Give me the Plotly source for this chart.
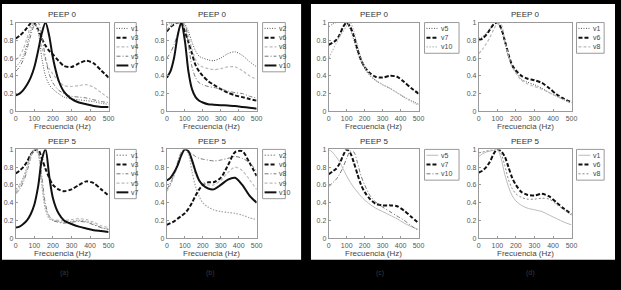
import plotly.graph_objects as go

W, H = 621, 290

# ---------------- data ----------------
freq = [0, 20, 40, 60, 80, 100, 120, 140, 160, 180, 200, 230, 260, 300, 340, 380, 420, 460, 500]
x_ticks = [0, 100, 200, 300, 400, 500]
y_ticks = [0, 0.2, 0.4, 0.6, 0.8, 1]
y_tick_labels = ["0", "0.2", "0.4", "0.6", "0.8", "1"]
panel_titles = ["PEEP 0", "PEEP 0", "PEEP 0", "PEEP 0", "PEEP 5", "PEEP 5", "PEEP 5", "PEEP 5"]
group_labels = ["(a)", "(b)", "(c)", "(d)"]
x_title = "Frecuencia (Hz)"

# Panel (a) PEEP 0
a0_names = ["v1", "v3", "v4", "v5", "v7"]
a0_v1 = [0.5, 0.55, 0.62, 0.75, 0.9, 1.0, 0.9, 0.6, 0.4, 0.3, 0.25, 0.2, 0.16, 0.14, 0.13, 0.12, 0.11, 0.09, 0.08]
a0_v3 = [0.82, 0.85, 0.89, 0.94, 0.99, 0.99, 0.92, 0.82, 0.74, 0.68, 0.64, 0.57, 0.51, 0.5, 0.54, 0.57, 0.54, 0.46, 0.38]
a0_v4 = [0.58, 0.62, 0.7, 0.82, 0.96, 1.0, 0.9, 0.72, 0.58, 0.48, 0.42, 0.34, 0.29, 0.28, 0.29, 0.3, 0.27, 0.21, 0.15]
a0_v5 = [0.45, 0.5, 0.58, 0.7, 0.85, 0.97, 1.0, 0.85, 0.6, 0.42, 0.32, 0.24, 0.2, 0.17, 0.16, 0.15, 0.13, 0.11, 0.1]
a0_v7 = [0.18, 0.2, 0.24, 0.3, 0.38, 0.5, 0.68, 0.88, 1.0, 0.85, 0.6, 0.35, 0.22, 0.14, 0.1, 0.08, 0.06, 0.05, 0.05]

# Panel (b) PEEP 0
b0_names = ["v2", "v6", "v8", "v9", "v10"]
b0_v2 = [0.97, 0.99, 1.0, 1.0, 1.0, 0.98, 0.9, 0.78, 0.68, 0.62, 0.6, 0.58, 0.57, 0.6, 0.65, 0.67, 0.63, 0.56, 0.5]
b0_v6 = [0.9, 0.95, 0.98, 1.0, 1.0, 0.9, 0.78, 0.65, 0.52, 0.45, 0.4, 0.34, 0.3, 0.25, 0.21, 0.18, 0.16, 0.14, 0.12]
b0_v8 = [0.92, 0.96, 0.99, 1.0, 0.99, 0.95, 0.85, 0.7, 0.58, 0.52, 0.5, 0.48, 0.47, 0.48, 0.5, 0.5, 0.46, 0.4, 0.36]
b0_v9 = [0.6, 0.66, 0.75, 0.87, 0.98, 0.98, 0.75, 0.5, 0.38, 0.32, 0.3, 0.28, 0.27, 0.25, 0.23, 0.21, 0.2, 0.17, 0.15]
b0_v10 = [0.38, 0.45, 0.6, 0.85, 1.0, 0.8, 0.45, 0.25, 0.16, 0.12, 0.1, 0.08, 0.075, 0.07, 0.065, 0.06, 0.05, 0.04, 0.03]

# Panel (c) PEEP 0
c0_names = ["v5", "v7", "v10"]
c0_v5 = [0.95, 0.98, 1.0, 1.0, 1.0, 0.99, 0.92, 0.8, 0.66, 0.56, 0.48, 0.4, 0.35, 0.3, 0.26, 0.21, 0.16, 0.12, 0.08]
c0_v7 = [0.75, 0.77, 0.8, 0.86, 0.95, 1.0, 0.95, 0.85, 0.7, 0.58, 0.5, 0.43, 0.39, 0.38, 0.4, 0.39, 0.33, 0.26, 0.2]
c0_v10 = [0.6, 0.68, 0.76, 0.84, 0.9, 0.96, 1.0, 0.9, 0.75, 0.6, 0.5, 0.41, 0.35, 0.3, 0.26, 0.21, 0.16, 0.11, 0.07]

# Panel (d) PEEP 0
d0_names = ["v1", "v6", "v8"]
d0_v1 = [0.82, 0.84, 0.88, 0.93, 0.98, 1.0, 0.92, 0.78, 0.62, 0.5, 0.44, 0.36, 0.33, 0.3, 0.26, 0.21, 0.17, 0.13, 0.1]
d0_v6 = [0.8, 0.82, 0.86, 0.92, 0.98, 1.0, 0.94, 0.8, 0.64, 0.52, 0.46, 0.4, 0.37, 0.35, 0.32, 0.26, 0.19, 0.14, 0.1]
d0_v8 = [0.65, 0.7, 0.76, 0.83, 0.92, 0.99, 0.98, 0.8, 0.62, 0.5, 0.43, 0.35, 0.31, 0.28, 0.25, 0.21, 0.17, 0.13, 0.09]

# Panel (a) PEEP 5
a5_names = ["v1", "v3", "v4", "v5", "v7"]
a5_v1 = [0.55, 0.6, 0.68, 0.8, 0.94, 1.0, 0.95, 0.6, 0.32, 0.22, 0.2, 0.19, 0.18, 0.19, 0.2, 0.19, 0.16, 0.12, 0.1]
a5_v3 = [0.73, 0.76, 0.8, 0.86, 0.94, 0.99, 1.0, 0.9, 0.78, 0.68, 0.6, 0.55, 0.53, 0.55, 0.6, 0.64, 0.62, 0.55, 0.48]
a5_v4 = [0.5, 0.55, 0.63, 0.75, 0.9, 1.0, 0.98, 0.7, 0.38, 0.25, 0.2, 0.18, 0.17, 0.18, 0.19, 0.18, 0.15, 0.12, 0.1]
a5_v5 = [0.52, 0.58, 0.66, 0.78, 0.92, 1.0, 0.96, 0.65, 0.35, 0.24, 0.21, 0.2, 0.2, 0.21, 0.22, 0.21, 0.18, 0.14, 0.12]
a5_v7 = [0.12, 0.13, 0.16, 0.2, 0.27, 0.38, 0.58, 0.88, 1.0, 0.7, 0.45, 0.28, 0.2, 0.16, 0.13, 0.11, 0.09, 0.08, 0.07]

# Panel (b) PEEP 5
b5_names = ["v2", "v6", "v8", "v9", "v10"]
b5_v2 = [0.55, 0.62, 0.72, 0.85, 0.97, 1.0, 0.95, 0.75, 0.58, 0.47, 0.4, 0.35, 0.32, 0.3, 0.29, 0.28, 0.26, 0.23, 0.21]
b5_v6 = [0.15, 0.17, 0.19, 0.22, 0.25, 0.28, 0.33, 0.4, 0.48, 0.55, 0.6, 0.63, 0.63, 0.68, 0.82, 0.97, 0.98, 0.85, 0.7]
b5_v8 = [0.55, 0.62, 0.72, 0.85, 0.96, 1.0, 0.98, 0.95, 0.92, 0.9, 0.89, 0.88, 0.87, 0.88, 0.9, 0.92, 0.9, 0.85, 0.75]
b5_v9 = [0.53, 0.6, 0.7, 0.82, 0.95, 1.0, 0.97, 0.85, 0.72, 0.65, 0.62, 0.6, 0.6, 0.65, 0.74, 0.8, 0.76, 0.66, 0.55]
b5_v10 = [0.65, 0.68, 0.74, 0.82, 0.93, 1.0, 0.98, 0.88, 0.75, 0.65, 0.6, 0.56, 0.55, 0.6, 0.66, 0.68, 0.6, 0.48, 0.4]

# Panel (c) PEEP 5
c5_names = ["v5", "v7", "v10"]
c5_v5 = [1.0, 0.97, 0.92, 0.86, 0.78, 0.7, 0.63, 0.57, 0.52, 0.47, 0.43, 0.38, 0.34, 0.3, 0.26, 0.22, 0.17, 0.13, 0.1]
c5_v7 = [0.72, 0.75, 0.78, 0.84, 0.93, 1.0, 0.96, 0.85, 0.72, 0.6, 0.52, 0.44, 0.39, 0.37, 0.37, 0.36, 0.31, 0.24, 0.17]
c5_v10 = [0.58, 0.62, 0.66, 0.72, 0.8, 0.9, 0.98, 0.97, 0.85, 0.7, 0.6, 0.48, 0.41, 0.35, 0.3, 0.25, 0.2, 0.14, 0.08]

# Panel (d) PEEP 5
d5_names = ["v1", "v6", "v8"]
d5_v1 = [0.92, 0.95, 0.97, 0.98, 0.99, 1.0, 0.9, 0.72, 0.58, 0.48, 0.42, 0.37, 0.34, 0.32, 0.3, 0.26, 0.22, 0.18, 0.15]
d5_v6 = [0.74, 0.76, 0.8, 0.86, 0.95, 1.0, 0.98, 0.92, 0.8, 0.68, 0.6, 0.52, 0.49, 0.48, 0.5, 0.47, 0.4, 0.33, 0.27]
d5_v8 = [0.96, 0.97, 0.98, 0.99, 1.0, 1.0, 0.95, 0.82, 0.66, 0.56, 0.5, 0.46, 0.44, 0.44, 0.45, 0.44, 0.38, 0.32, 0.26]

panels_series = [
    (a0_names, [a0_v1, a0_v3, a0_v4, a0_v5, a0_v7]),
    (b0_names, [b0_v2, b0_v6, b0_v8, b0_v9, b0_v10]),
    (c0_names, [c0_v5, c0_v7, c0_v10]),
    (d0_names, [d0_v1, d0_v6, d0_v8]),
    (a5_names, [a5_v1, a5_v3, a5_v4, a5_v5, a5_v7]),
    (b5_names, [b5_v2, b5_v6, b5_v8, b5_v9, b5_v10]),
    (c5_names, [c5_v5, c5_v7, c5_v10]),
    (d5_names, [d5_v1, d5_v6, d5_v8]),
]

# ---------------- styles (color, dash, width) ----------------
DOT_D = ("#555555", "1px,1.5px", 1.0)
DOT_L = ("#aaaaaa", "1.5px,1.5px", 1.3)
DASH_K = ("#111111", "4px,2px", 2.0)
DASH_L = ("#bbbbbb", "3px,2px", 1.2)
DDOT = ("#777777", "4px,2px,1px,2px", 1.0)
SOLID_K = ("#111111", "solid", 2.0)
SOLID_L = ("#bbbbbb", "solid", 1.0)
panel_styles = [
    [DOT_D, DASH_K, DASH_L, DDOT, SOLID_K],
    [DOT_D, DASH_K, DASH_L, DDOT, SOLID_K],
    [DOT_D, DASH_K, ("#bbbbbb", "1.5px,1.5px", 1.2)],
    [DOT_D, DASH_K, DASH_L],
    [DOT_L, DASH_K, DDOT, DASH_L, SOLID_K],
    [DOT_L, DASH_K, DDOT, DASH_L, SOLID_K],
    [SOLID_L, DASH_K, DDOT],
    [SOLID_L, DASH_K, ("#888888", "2px,2px", 1.0)],
]

# plot area pixel boxes (x0, x1, y0, y1) top-down
cols = [(14, 108), (167, 258), (331, 422), (483, 577)]
rows = [(19, 110), (149, 240)]
leg_x = [(114, 136), (264, 287), (428, 463), (582, 610)]

def px(x):
    return x / W

def py(y):
    return 1 - y / H

fig = go.Figure()
shapes = []
annotations = []

# backgrounds
shapes.append(dict(type="rect", xref="paper", yref="paper", x0=px(0), x1=px(303), y0=py(262), y1=py(0),
                   fillcolor="white", line=dict(width=0), layer="below"))
shapes.append(dict(type="rect", xref="paper", yref="paper", x0=px(313), x1=px(621), y0=py(262), y1=py(0),
                   fillcolor="white", line=dict(width=0), layer="below"))

tick_font = dict(family="Liberation Sans, Arial", size=7, color="#555555")
for i in range(8):
    r, c = divmod(i, 4)
    x0, x1 = cols[c]
    y0, y1 = rows[r]
    ax = "" if i == 0 else str(i + 1)
    names, series = panels_series[i]
    for name, vals, st in zip(names, series, panel_styles[i]):
        fig.add_trace(go.Scatter(x=freq, y=vals, mode="lines", name=name, showlegend=False,
                                 line=dict(color=st[0], dash=st[1], width=st[2], shape="spline", smoothing=0.8),
                                 xaxis="x" + ax, yaxis="y" + ax))
    fig.update_layout(**{
        "xaxis" + ax: dict(domain=[px(x0), px(x1)], range=[0, 500], anchor="y" + ax,
                           tickvals=x_ticks, showgrid=False, zeroline=False,
                           showline=True, mirror=True, linecolor="#9a9a9a", linewidth=1,
                           ticks="inside", ticklen=2, tickcolor="#9a9a9a",
                           tickfont=tick_font, fixedrange=True),
        "yaxis" + ax: dict(domain=[py(y1), py(y0)], range=[0, 1], anchor="x" + ax,
                           tickvals=y_ticks, ticktext=y_tick_labels, showgrid=False, zeroline=False,
                           showline=True, mirror=True, linecolor="#9a9a9a", linewidth=1,
                           ticks="inside", ticklen=2, tickcolor="#9a9a9a",
                           tickfont=tick_font, fixedrange=True),
    })
    xm = (x0 + x1) / 2
    annotations.append(dict(xref="paper", yref="paper", x=px(xm), y=py(y0 - 8), text=panel_titles[i],
                            showarrow=False, font=dict(family="Liberation Sans, Arial", size=8, color="#333333"),
                            xanchor="center", yanchor="middle"))
    annotations.append(dict(xref="paper", yref="paper", x=px(xm), y=py(y1 + 16), text=x_title,
                            showarrow=False, font=dict(family="Liberation Sans, Arial", size=8, color="#444444"),
                            xanchor="center", yanchor="middle"))
    # manual legend
    lx0, lx1 = leg_x[c]
    n = len(names)
    ly0 = y0
    ly1 = y0 + 3 + n * 9.5
    shapes.append(dict(type="rect", xref="paper", yref="paper", x0=px(lx0), x1=px(lx1), y0=py(ly1), y1=py(ly0),
                       fillcolor="white", line=dict(color="#9a9a9a", width=1)))
    for k, (name, st) in enumerate(zip(names, panel_styles[i])):
        yy = ly0 + 6 + k * 9.5
        shapes.append(dict(type="line", xref="paper", yref="paper", x0=px(lx0 + 2), x1=px(lx0 + 14),
                           y0=py(yy), y1=py(yy), line=dict(color=st[0], dash=st[1], width=st[2])))
        annotations.append(dict(xref="paper", yref="paper", x=px(lx0 + 14.5), y=py(yy), text=name,
                                showarrow=False, font=dict(family="Liberation Sans, Arial", size=7, color="#444444"),
                                xanchor="left", yanchor="middle"))

for lbl, xx in zip(group_labels, [63, 211, 383, 535]):
    annotations.append(dict(xref="paper", yref="paper", x=px(xx), y=py(276), text=lbl, showarrow=False,
                            font=dict(family="Liberation Sans, Arial", size=7, color="#3a3a3a"),
                            xanchor="center", yanchor="middle"))

fig.update_layout(width=W, height=H, margin=dict(l=0, r=0, t=0, b=0),
                  paper_bgcolor="black", plot_bgcolor="white",
                  shapes=shapes, annotations=annotations, showlegend=False)

fig.write_html("out.html", config={"displayModeBar": False},
               post_script="document.body.style.margin='0';document.body.style.background='black';")
